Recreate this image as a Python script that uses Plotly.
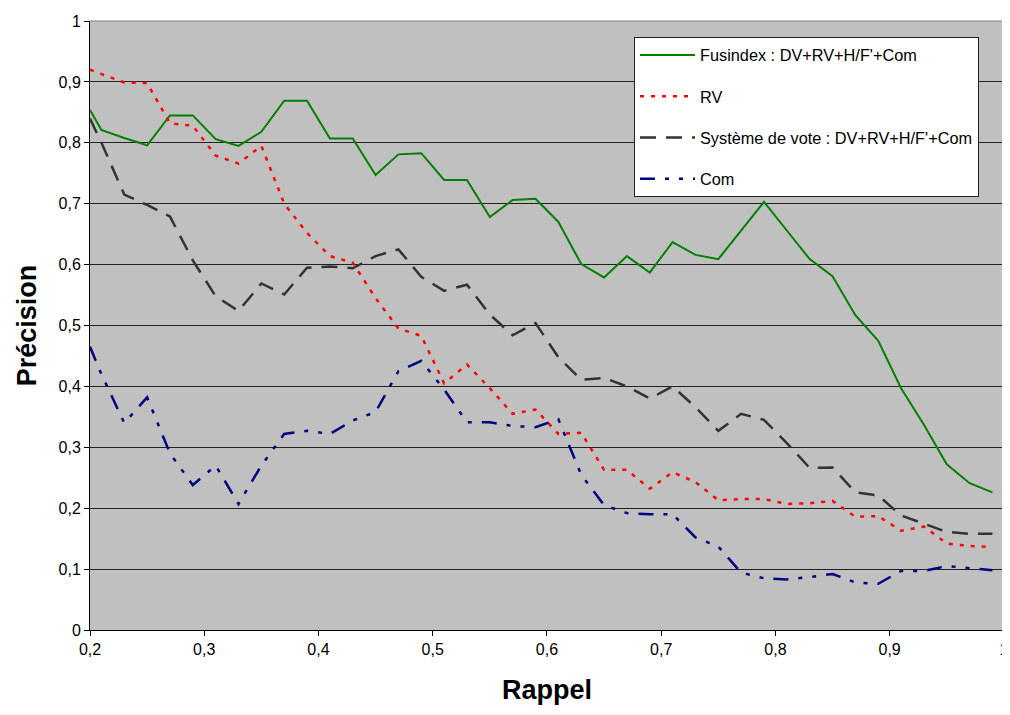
import plotly.graph_objects as go

rappel = [0.20, 0.21, 0.23, 0.25, 0.27, 0.29, 0.31, 0.33, 0.35, 0.37, 0.39,
          0.41, 0.43, 0.45, 0.47, 0.49, 0.51, 0.53, 0.55, 0.57, 0.59,
          0.61, 0.63, 0.65, 0.67, 0.69, 0.71, 0.73, 0.75, 0.77, 0.79,
          0.81, 0.83, 0.85, 0.87, 0.89, 0.91, 0.93, 0.95, 0.97, 0.99]

fusindex = [0.854, 0.821, 0.808, 0.796, 0.845, 0.845, 0.806, 0.795, 0.818, 0.869, 0.869,
            0.807, 0.807, 0.747, 0.781, 0.783, 0.739, 0.739, 0.678, 0.706, 0.708,
            0.670, 0.601, 0.579, 0.614, 0.587, 0.637, 0.616, 0.609, 0.656, 0.703,
            0.656, 0.609, 0.581, 0.517, 0.475, 0.397, 0.337, 0.272, 0.241, 0.226]

rv = [0.920, 0.913, 0.899, 0.898, 0.832, 0.828, 0.779, 0.766, 0.795, 0.700, 0.652,
      0.614, 0.603, 0.545, 0.495, 0.483, 0.405, 0.436, 0.397, 0.355, 0.362,
      0.322, 0.324, 0.263, 0.263, 0.232, 0.259, 0.243, 0.213, 0.215, 0.215,
      0.207, 0.208, 0.212, 0.186, 0.187, 0.163, 0.170, 0.142, 0.138, 0.136]

vote = [0.840, 0.800, 0.715, 0.698, 0.679, 0.607, 0.548, 0.524, 0.569, 0.551, 0.595,
        0.597, 0.594, 0.614, 0.625, 0.580, 0.557, 0.567, 0.518, 0.484, 0.504,
        0.448, 0.411, 0.414, 0.400, 0.380, 0.400, 0.366, 0.327, 0.355, 0.345,
        0.307, 0.266, 0.267, 0.226, 0.221, 0.188, 0.174, 0.161, 0.158, 0.158]

com = [0.465, 0.420, 0.340, 0.382, 0.290, 0.238, 0.270, 0.207, 0.270, 0.322, 0.327,
       0.322, 0.344, 0.358, 0.425, 0.442, 0.395, 0.341, 0.341, 0.335, 0.333,
       0.346, 0.255, 0.205, 0.192, 0.190, 0.190, 0.152, 0.137, 0.094, 0.085,
       0.083, 0.087, 0.092, 0.078, 0.076, 0.097, 0.097, 0.105, 0.102, 0.098]

series_names = ["Fusindex : DV+RV+H/F'+Com", "RV",
                "Système de vote : DV+RV+H/F'+Com", "Com"]

x_tickvals = [0.2, 0.3, 0.4, 0.5, 0.6, 0.7, 0.8, 0.9, 1.0]
x_ticktext = ["0,2", "0,3", "0,4", "0,5", "0,6", "0,7", "0,8", "0,9", "1"]
y_tickvals = [0, 0.1, 0.2, 0.3, 0.4, 0.5, 0.6, 0.7, 0.8, 0.9, 1.0]
y_ticktext = ["0", "0,1", "0,2", "0,3", "0,4", "0,5", "0,6", "0,7", "0,8", "0,9", "1"]

FONT = "Arial, 'Liberation Sans', sans-serif"

styles = [
    dict(color="#008000", width=2, dash="solid"),
    dict(color="#FF0000", width=2.5, dash="4px,7px"),
    dict(color="#333333", width=2.5, dash="16px,10px"),
    dict(color="#000080", width=2.5, dash="15px,10px,4px,10px,4px,10px"),
]

fig = go.Figure()
for i, (name, ys) in enumerate(zip(series_names, [fusindex, rv, vote, com])):
    fig.add_trace(go.Scatter(
        x=rappel, y=ys, mode="lines", name=name,
        line=styles[i], legendgroup=f"g{i}",
    ))

fig.update_layout(
    width=1002, height=699,
    margin=dict(l=82, r=6, t=13, b=77, autoexpand=False),
    paper_bgcolor="white",
    plot_bgcolor="#C0C0C0",
    font=dict(family=FONT, size=16, color="black"),
    showlegend=True,
    legend=dict(
        x=0.5952, y=0.9737, xanchor="left", yanchor="top",
        bgcolor="white", bordercolor="#222222", borderwidth=1,
        font=dict(family=FONT, size=16.3, color="black"),
        traceorder="grouped", tracegroupgap=17,
        itemwidth=55,
    ),
    xaxis=dict(
        range=[0.2, 1.0001], tickvals=x_tickvals, ticktext=x_ticktext,
        showgrid=False, zeroline=False, automargin=False,
        ticklabeloverflow="allow",
        showline=True, linecolor="black", linewidth=1,
        ticks="outside", ticklen=5, tickcolor="black",
        tickfont=dict(family=FONT, size=16, color="black"),
        title=dict(text="<b>Rappel</b>", font=dict(family=FONT, size=27, color="black"), standoff=22),
    ),
    yaxis=dict(
        range=[0, 1.0], tickvals=y_tickvals, ticktext=y_ticktext,
        showgrid=True, gridcolor="#222222", gridwidth=1,
        zeroline=False, automargin=False,
        showline=True, linecolor="black", linewidth=1,
        ticks="outside", ticklen=5, tickcolor="black",
        tickfont=dict(family=FONT, size=16, color="black"),
        title=dict(text="<b>Précision</b>", font=dict(family=FONT, size=27, color="black"), standoff=14),
    ),
    shapes=[
        dict(type="line", xref="paper", yref="paper", x0=0, x1=1, y0=1, y1=1,
             line=dict(color="#808080", width=1), layer="above"),
        dict(type="line", xref="paper", yref="paper", x0=1, x1=1, y0=0, y1=1,
             line=dict(color="#808080", width=1), layer="above"),
    ],
)

fig.write_html("out.html")
